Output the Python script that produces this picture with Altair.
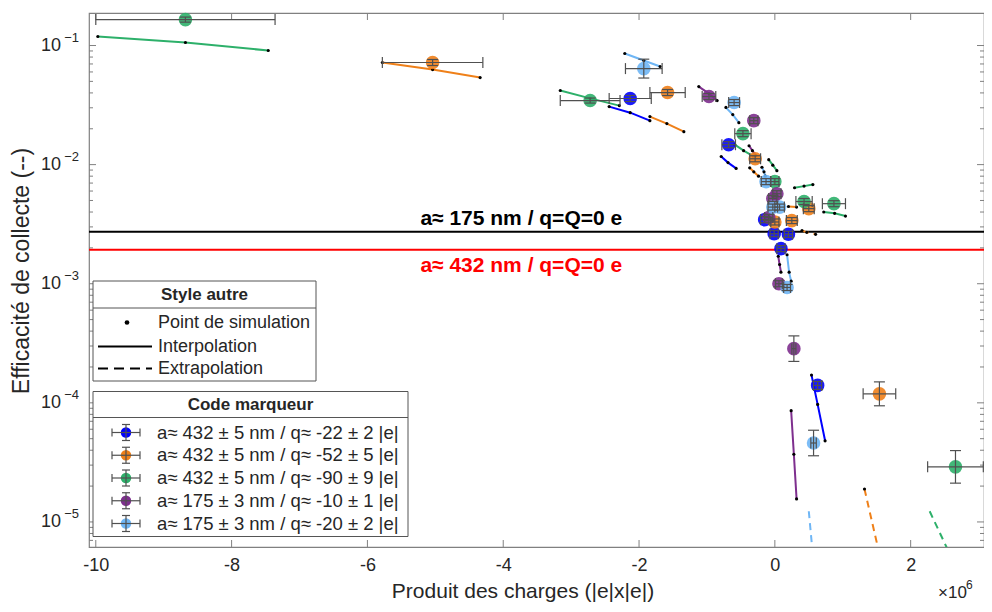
import altair as alt
import pandas as pd

FONT = "Liberation Sans"
TXT = "#262626"
AXC = "#808080"
EBC = "#505050"
W, H = 895, 534

# ---------------- axes ----------------
X_DOMAIN = [-10.1, 3.08]          # in units of 1e6
Y_DOMAIN = [6.16e-6, 0.1875]
X_TICKS = [-10, -8, -6, -4, -2, 0, 2]
Y_DECADES = [1e-1, 1e-2, 1e-3, 1e-4, 1e-5]
Y_EXPONENTS = ["\u22121", "\u22122", "\u22123", "\u22124", "\u22125"]
Y_MINOR = [k * 10.0 ** e for e in range(-6, 0) for k in range(2, 10)
           if Y_DOMAIN[0] < k * 10.0 ** e < Y_DOMAIN[1]]

X_TITLE = "Produit des charges (|e|x|e|)"
Y_TITLE = "Efficacité de collecte (--)"

# ---------------- series ----------------
SERIES = ["b", "o", "g", "p", "c"]
SERIES_COLORS = ["#0000FF", "#EF8019", "#2DB06A", "#7E2F8E", "#6FB6F5"]
SERIES_LABELS = [
    "a\u2248 432 \u00b1 5 nm / q\u2248 -22 \u00b1 2 |e|",
    "a\u2248 432 \u00b1 5 nm / q\u2248 -52 \u00b1 5 |e|",
    "a\u2248 432 \u00b1 5 nm / q\u2248 -90 \u00b1 9 |e|",
    "a\u2248 175 \u00b1 3 nm / q\u2248 -10 \u00b1 1 |e|",
    "a\u2248 175 \u00b1 3 nm / q\u2248 -20 \u00b1 2 |e|",
]

# measured points (marker + error bars)
MK_SERIES = ["b"] * 7 + ["o"] * 7 + ["g"] * 7 + ["p"] * 7 + ["c"] * 7
MK_X = [-2.13, -0.68, -0.15, -0.01, 0.20, 0.09, 0.63,
        -5.04, -1.58, -0.29, 0.50, 0.25, 0.00, 1.54,
        -8.68, -2.72, -0.47, 0.00, 0.43, 0.87, 2.66,
        -0.97, -0.31, 0.03, -0.03, -0.09, 0.06, 0.28,
        -1.93, -0.60, -0.13, -0.03, 0.07, 0.18, 0.57]
MK_Y = [0.0359, 0.0147, 3.45e-3, 2.63e-3, 2.6e-3, 1.97e-3, 1.4e-4,
        0.072, 0.0403, 0.0112, 4.27e-3, 3.39e-3, 3.3e-3, 1.19e-4,
        0.165, 0.0345, 0.0182, 7.2e-3, 4.9e-3, 4.7e-3, 2.9e-5,
        0.0373, 0.0234, 5.7e-3, 5.2e-3, 3.6e-3, 1.0e-3, 2.85e-4,
        0.064, 0.0332, 7.2e-3, 4.4e-3, 4.4e-3, 9.3e-4, 4.6e-5]
MK_XERR = [0.31, 0.10, 0.06, 0.06, 0.06, 0.06, 0.06,
           0.74, 0.26, 0.08, 0.08, 0.08, 0.06, 0.24,
           1.32, 0.44, 0.12, 0.06, 0.12, 0.17, 0.41,
           0.10, 0.06, 0.06, 0.06, 0.06, 0.05, 0.03,
           0.27, 0.08, 0.07, 0.07, 0.07, 0.05, 0.04]
MK_YFAC = [1.06, 1.06, 1.06, 1.06, 1.06, 1.06, 1.08,
           1.06, 1.06, 1.06, 1.06, 1.06, 1.06, 1.26,
           1.05, 1.05, 1.06, 1.06, 1.06, 1.06, 1.37,
           1.06, 1.06, 1.06, 1.06, 1.06, 1.06, 1.28,
           1.20, 1.06, 1.06, 1.06, 1.06, 1.06, 1.28]

# simulation curves: (series, style, xs, ys, dots)
SIM = [
    ("g", "solid", [-9.97, -8.68, -7.46], [0.119, 0.106, 0.0908], [1, 1, 1]),
    ("o", "solid", [-5.78, -5.04, -4.34], [0.072, 0.0628, 0.0538], [1, 1, 1]),
    ("g", "solid", [-3.16, -2.72, -2.29], [0.0419, 0.036, 0.0313], [1, 1, 1]),
    ("b", "solid", [-2.44, -2.13, -1.84], [0.0307, 0.0273, 0.0234], [1, 1, 1]),
    ("o", "solid", [-1.84, -1.59, -1.34], [0.0253, 0.0221, 0.0189], [1, 1, 1]),
    ("c", "solid", [-2.21, -1.93, -1.69], [0.0857, 0.0748, 0.0666], [1, 1, 1]),
    ("p", "solid", [-1.12, -0.97, -0.85], [0.0452, 0.0395, 0.0345], [1, 1, 1]),
    ("c", "solid", [-0.72, -0.62, -0.53], [0.0302, 0.0263, 0.0225], [1, 1, 1]),
    ("p", "solid", [-0.38, -0.33, -0.28], [0.0144, 0.0131, 0.0119], [1, 1, 1]),
    ("g", "solid", [-0.59, -0.46, -0.32], [0.0147, 0.0131, 0.0118], [1, 1, 1]),
    ("b", "solid", [-0.79, -0.69, -0.57], [0.0117, 0.0104, 0.0093], [1, 1, 1]),
    ("o", "solid", [-0.37, -0.31, -0.24], [0.0094, 0.0087, 0.0080], [1, 1, 1]),
    ("g", "solid", [-0.09, -0.03, 0.03], [0.0110, 0.0099, 0.0089], [1, 1, 1]),
    ("c", "solid", [-0.19, -0.16, -0.14], [0.0095, 0.0087, 0.0080], [1, 1, 1]),
    ("g", "solid", [0.29, 0.43, 0.56], [0.0064, 0.0066, 0.0068], [1, 1, 1]),
    ("g", "solid", [0.72, 0.88, 1.04], [0.0040, 0.0039, 0.0037], [1, 1, 1]),
    ("o", "dashed", [0.40, 0.47, 0.60], [0.0028, 0.0027, 0.0026], [1, 1, 1]),
    ("o", "solid", [0.20, 0.32], [0.00445, 0.0044], [1, 1]),
    ("p", "solid", [0.05, 0.07, 0.09], [0.0017, 0.00145, 0.00125], [1, 1, 1]),
    ("c", "solid", [0.18, 0.21, 0.24], [0.00175, 0.00125, 0.00105], [1, 1, 1]),
    ("p", "solid", [0.24, 0.28, 0.32], [8.6e-5, 3.7e-5, 1.56e-5], [1, 1, 1]),
    ("b", "solid", [0.54, 0.63, 0.74], [1.71e-4, 9.7e-5, 4.8e-5], [1, 1, 1]),
    ("c", "dashed", [0.50, 0.59], [1.23e-5, 3.4e-6], [0, 0]),
    ("o", "dashed", [1.32, 1.62], [1.89e-5, 3.4e-6], [1, 0]),
    ("g", "dashed", [2.28, 2.74], [1.23e-5, 3.4e-6], [0, 0]),
]

# reference horizontal lines
H_LINE_Y = [2.73e-3, 1.93e-3]
H_LINE_COLOR = ["#000000", "#FF0000"]
H_LINE_TEXT = ["a\u2248 175 nm / q=Q=0 e", "a\u2248 432 nm / q=Q=0 e"]
H_LINE_TEXT_X = [-5.22, -5.22]
H_LINE_TEXT_DY = [-13, 16]

STYLE_TITLE = "Style autre"
STYLE_LABELS = ["Point de simulation", "Interpolation", "Extrapolation"]
CODE_TITLE = "Code marqueur"

# ---------------- scales / helpers ----------------
XS = alt.Scale(domain=X_DOMAIN, nice=False, zero=False)
YS = alt.Scale(type="log", domain=Y_DOMAIN, nice=False)
CS = alt.Scale(domain=SERIES, range=SERIES_COLORS)
XAXIS = alt.Axis(values=X_TICKS,
                 labelExpr="(datum.value < 0 ? '-' : '') + abs(datum.value)",
                 tickSize=0, domain=False, grid=False, title=None,
                 labelFontSize=18, labelPadding=9, labelColor=TXT,
                 labelFont=FONT)


def X(f):
    return alt.X(f"{f}:Q", scale=XS, axis=XAXIS)


def Y(f):
    return alt.Y(f"{f}:Q", scale=YS, axis=None)


COL = alt.Color("series:N", scale=CS, legend=None)
ONE = pd.DataFrame({"a": [0]})

layers = []

# ticks (inward, all four sides)
tx = pd.DataFrame({"v": X_TICKS})
tyM = pd.DataFrame({"v": Y_DECADES})
tym = pd.DataFrame({"v": Y_MINOR})
tick = dict(color=AXC, strokeWidth=1)
layers += [
    alt.Chart(tx).mark_rule(**tick).encode(x=X("v"), y=alt.value(H), y2=alt.value(H - 7)),
    alt.Chart(tx).mark_rule(**tick).encode(x=X("v"), y=alt.value(0), y2=alt.value(7)),
    alt.Chart(tyM).mark_rule(**tick).encode(y=Y("v"), x=alt.value(0), x2=alt.value(7)),
    alt.Chart(tyM).mark_rule(**tick).encode(y=Y("v"), x=alt.value(W), x2=alt.value(W - 7)),
    alt.Chart(tym).mark_rule(**tick).encode(y=Y("v"), x=alt.value(0), x2=alt.value(4)),
    alt.Chart(tym).mark_rule(**tick).encode(y=Y("v"), x=alt.value(W), x2=alt.value(W - 4)),
]

# y tick labels 10^n
ylab = pd.DataFrame({"v": Y_DECADES, "e": Y_EXPONENTS})
layers += [
    alt.Chart(ylab).mark_text(align="right", baseline="middle", fontSize=18,
                              font=FONT, color=TXT, text="10")
    .encode(y=Y("v"), x=alt.value(-28)),
    alt.Chart(ylab).mark_text(align="right", baseline="middle", fontSize=13,
                              font=FONT, color=TXT, dy=-8)
    .encode(y=Y("v"), x=alt.value(-10), text="e:N"),
]

# reference lines
for yv, c in zip(H_LINE_Y, H_LINE_COLOR):
    layers.append(alt.Chart(pd.DataFrame({"y": [yv]})).mark_rule(color=c, strokeWidth=2)
                  .encode(y=Y("y")))

# simulation curves
rows = []
for k, (s, st, xs, ys, ds) in enumerate(SIM):
    for i, (xv, yv, dv) in enumerate(zip(xs, ys, ds)):
        rows.append(dict(seg=k, series=s, style=st, i=i, x=xv, y=yv, dot=dv))
sim = pd.DataFrame(rows)
layers += [
    alt.Chart(sim[sim["style"] == "solid"]).mark_line(strokeWidth=2, clip=True)
    .encode(x=X("x"), y=Y("y"), color=COL, detail="seg:N", order="i:Q"),
    alt.Chart(sim[sim["style"] == "dashed"]).mark_line(strokeWidth=2, strokeDash=[7, 5], clip=True)
    .encode(x=X("x"), y=Y("y"), color=COL, detail="seg:N", order="i:Q"),
    alt.Chart(sim[sim["dot"] == 1]).mark_circle(color="black", size=10, opacity=1)
    .encode(x=X("x"), y=Y("y")),
]

# markers and error bars
mk = pd.DataFrame({"series": MK_SERIES, "x": MK_X, "y": MK_Y,
                   "xerr": MK_XERR, "yfac": MK_YFAC})
mk["xlo"] = mk["x"] - mk["xerr"]
mk["xhi"] = mk["x"] + mk["xerr"]
mk["ylo"] = mk["y"] / mk["yfac"]
mk["yhi"] = mk["y"] * mk["yfac"]
xcaps = pd.concat([mk.assign(xc=mk["xlo"]), mk.assign(xc=mk["xhi"])])
ycaps = pd.concat([mk.assign(yc=mk["ylo"]), mk.assign(yc=mk["yhi"])])
layers += [
    alt.Chart(mk).mark_circle(size=185, opacity=0.9).encode(x=X("x"), y=Y("y"), color=COL),
    alt.Chart(mk).mark_rule(color=EBC, strokeWidth=1.2, clip=True)
    .encode(x=X("xlo"), x2=alt.X2("xhi"), y=Y("y")),
    alt.Chart(mk).mark_rule(color=EBC, strokeWidth=1.2, clip=True)
    .encode(x=X("x"), y=Y("ylo"), y2=alt.Y2("yhi")),
    alt.Chart(xcaps).mark_tick(orient="vertical", size=11, thickness=1.2, color=EBC, opacity=1, clip=True)
    .encode(x=X("xc"), y=Y("y")),
    alt.Chart(ycaps).mark_tick(orient="horizontal", size=11, thickness=1.2, color=EBC, opacity=1, clip=True)
    .encode(x=X("x"), y=Y("yc")),
]

# annotations of reference lines
for t, yv, c, xv, dy in zip(H_LINE_TEXT, H_LINE_Y, H_LINE_COLOR, H_LINE_TEXT_X, H_LINE_TEXT_DY):
    layers.append(alt.Chart(pd.DataFrame({"x": [xv], "y": [yv], "t": [t]}))
                  .mark_text(align="left", baseline="middle", fontSize=21, fontWeight="bold",
                             font=FONT, color=c, dy=dy)
                  .encode(x=X("x"), y=Y("y"), text="t:N"))


# ---------------- legends (drawn inside the plot) ----------------
def box(x1, x2, y1, y2):
    return alt.Chart(ONE).mark_rect(fill="white", stroke="#555555", strokeWidth=1).encode(
        x=alt.value(x1), x2=alt.value(x2), y=alt.value(y1), y2=alt.value(y2))


def seg(x1, x2, y1, y2, color, width, dash=None):
    kw = dict(color=color, strokeWidth=width)
    if dash:
        kw["strokeDash"] = dash
    return alt.Chart(ONE).mark_rule(**kw).encode(
        x=alt.value(x1), x2=alt.value(x2), y=alt.value(y1), y2=alt.value(y2))


def label(t, x, y, size=17, bold=False, align="left", color=TXT, angle=0):
    kw = dict(align=align, baseline="middle", fontSize=size, font=FONT, color=color, text=t)
    if bold:
        kw["fontWeight"] = "bold"
    if angle:
        kw["angle"] = angle
    return alt.Chart(ONE).mark_text(**kw).encode(x=alt.value(x), y=alt.value(y))


# Style autre
layers += [box(4, 227, 268, 368), seg(4, 227, 295, 295, "#555555", 1),
           label(STYLE_TITLE, 115.5, 282, size=17, bold=True, align="center")]
sty_y = [309.5, 333.5, 355.5]
layers.append(alt.Chart(ONE).mark_circle(color="black", size=22, opacity=1)
              .encode(x=alt.value(38), y=alt.value(sty_y[0])))
layers.append(seg(9, 63, sty_y[1], sty_y[1], "black", 2))
layers.append(seg(9, 63, sty_y[2], sty_y[2], "black", 2, dash=[10, 6]))
for t, yy in zip(STYLE_LABELS, sty_y):
    layers.append(label(t, 69, yy, size=18))

# Code marqueur
layers += [box(4, 319, 378.5, 523.5), seg(4, 319, 404.5, 404.5, "#555555", 1),
           label(CODE_TITLE, 161.5, 392, size=17, bold=True, align="center")]
for i, (t, c) in enumerate(zip(SERIES_LABELS, SERIES_COLORS)):
    yy = 419.5 + 22.75 * i
    layers += [
        alt.Chart(ONE).mark_circle(color=c, size=110, opacity=1)
        .encode(x=alt.value(37), y=alt.value(yy)),
        seg(23, 51, yy, yy, EBC, 1.2),
        seg(23, 23, yy - 4, yy + 4, EBC, 1.2),
        seg(51, 51, yy - 4, yy + 4, EBC, 1.2),
        seg(37, 37, yy - 8, yy + 8, EBC, 1.2),
        seg(33, 41, yy - 8, yy - 8, EBC, 1.2),
        seg(33, 41, yy + 8, yy + 8, EBC, 1.2),
        label(t, 68, yy, size=18.5),
    ]

# axis titles and multiplier
layers += [
    label(X_TITLE, 434, 579, size=21, align="center"),
    label(Y_TITLE, -67, 258, size=23, align="center", angle=270),
    label("\u00d710", 849, 580, size=17),
    alt.Chart(ONE).mark_text(align="left", baseline="middle", fontSize=12, font=FONT,
                             color=TXT, text="6").encode(x=alt.value(877), y=alt.value(572)),
]

chart = alt.layer(*layers).properties(
    width=W, height=H,
    autosize=alt.AutoSizeParams(type="none"),
    padding={"left": 81, "top": 5, "right": 0, "bottom": 57},
).configure_view(stroke=AXC, strokeWidth=1.2)

chart.save("out.html", embed_options={"renderer": "svg", "actions": False})
